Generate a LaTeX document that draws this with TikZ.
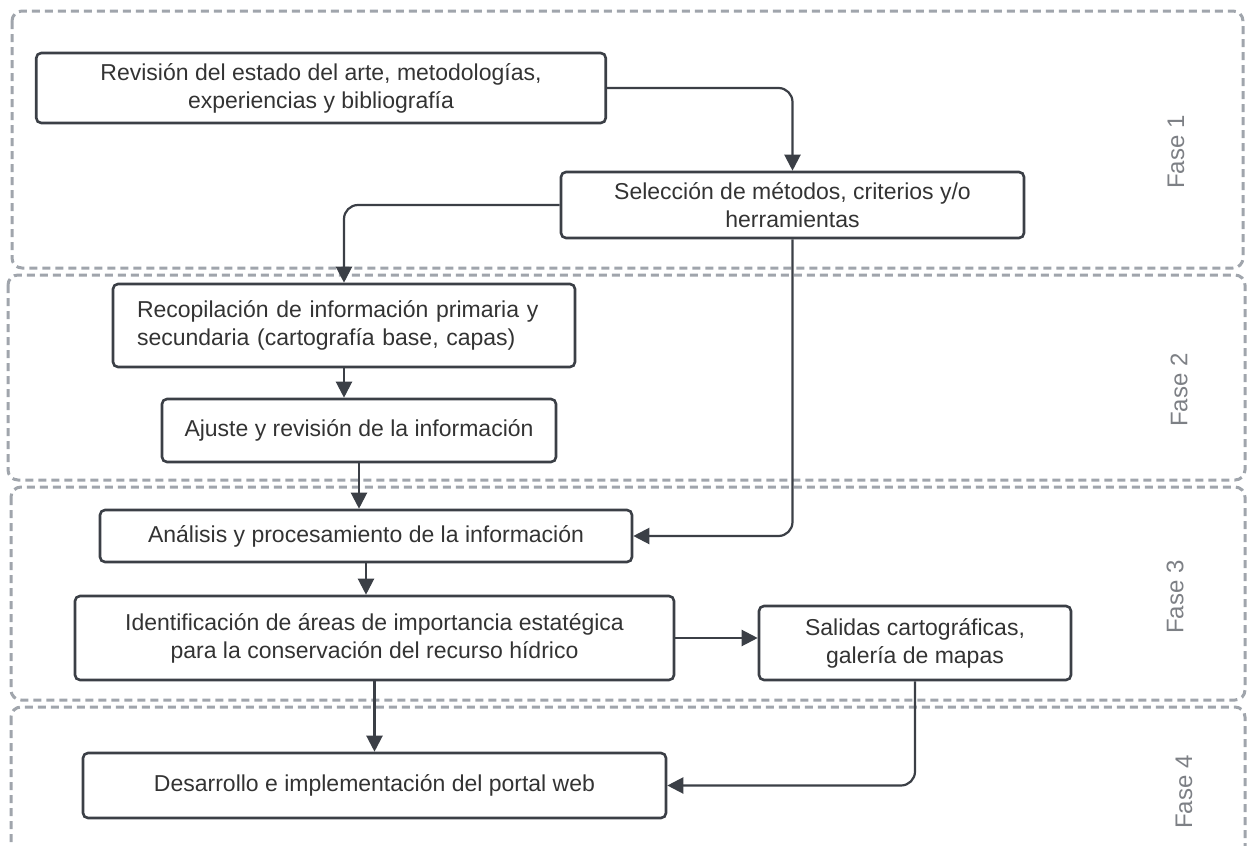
\documentclass[tikz,border=0pt]{standalone}
\usepackage{fontspec}
\setmainfont{Liberation Sans}
\usetikzlibrary{arrows.meta}
\definecolor{boxline}{RGB}{59,63,70}
\definecolor{txt}{RGB}{51,51,51}
\definecolor{frameline}{RGB}{160,165,172}
\definecolor{fasegray}{RGB}{125,128,133}
\begin{document}
\begin{tikzpicture}[x=0.5pt,y=-0.5pt,
  box/.style={draw=boxline,line width=1.3pt,rounded corners=2.5pt,text=txt,align=center,inner sep=0pt,
    font=\fontsize{11.5pt}{14pt}\selectfont},
  phase/.style={draw=frameline,line width=1.5pt,dash pattern=on 4pt off 2.5pt,rounded corners=5pt},
  fase/.style={rotate=90,text=fasegray,font=\fontsize{12pt}{14pt}\selectfont},
  link/.style={color=boxline,line width=1.1pt,rounded corners=7pt,-{Triangle[length=8pt,width=8pt]}}]
          \useasboundingbox (0,0) rectangle (1249,846);

          % phase frames
          \draw[phase] (12,11) rectangle (1243,268);
          \draw[phase] (8,275) rectangle (1245,480);
          \draw[phase] (11,487) rectangle (1245,700);
          \draw[phase] (11,707) rectangle (1245,880);

          \node[fase] (p1) at (1176,152) {Fase 1};
          \node[fase] (p2) at (1179,390) {Fase 2};
          \node[fase] (p3) at (1175,597) {Fase 3};
          \node[fase] (p4) at (1184,792) {Fase 4};

          % steps
          \node[box,minimum width=284.75pt,minimum height=35pt] (1) at (321,88)
            {Revisión del estado del arte, metodologías,\\experiencias y bibliografía};
          \node[box,minimum width=231.5pt,minimum height=33pt] (2) at (792.5,205)
            {Selección de métodos, criterios y/o\\herramientas};
          \node[box,align=left,text width=207pt,inner xsep=12pt,minimum height=41.5pt] (3) at (344,325.5)
            {Recopilación de información primaria y\\secundaria (cartografía base, capas)};
          \node[box,minimum width=197pt,minimum height=31.5pt] (4) at (359,430.5)
            {Ajuste y revisión de la información};
          \node[box,minimum width=266pt,minimum height=26pt] (5) at (366,536)
            {Análisis y procesamiento de la información};
          \node[box,minimum width=299.5pt,minimum height=42pt] (6) at (374.5,638)
            {Identificación de áreas de importancia estatégica\\para la conservación del recurso hídrico};
          \node[box,minimum width=156pt,minimum height=37pt] (7) at (915,643)
            {Salidas cartográficas,\\galería de mapas};
          \node[box,minimum width=291.5pt,minimum height=32.5pt] (8) at (374.5,785.5)
            {Desarrollo e implementación del portal web};

          \draw[link] (1.east) -| (2.north);
          \draw[link] (2.west) -| (3.north);
          \draw[link] (2.south) |- (5.east);
          \draw[link] (7.south) |- (8.east);

          \path[link]
          (3.south) edge (3.south |- 4.north)
          (4.south) edge (4.south |- 5.north)
          (5.south) edge (5.south |- 6.north)
          (6.south) edge (8.north)
          (6.east) edge (6.east -| 7.west);
        \end{tikzpicture}
\end{document}
